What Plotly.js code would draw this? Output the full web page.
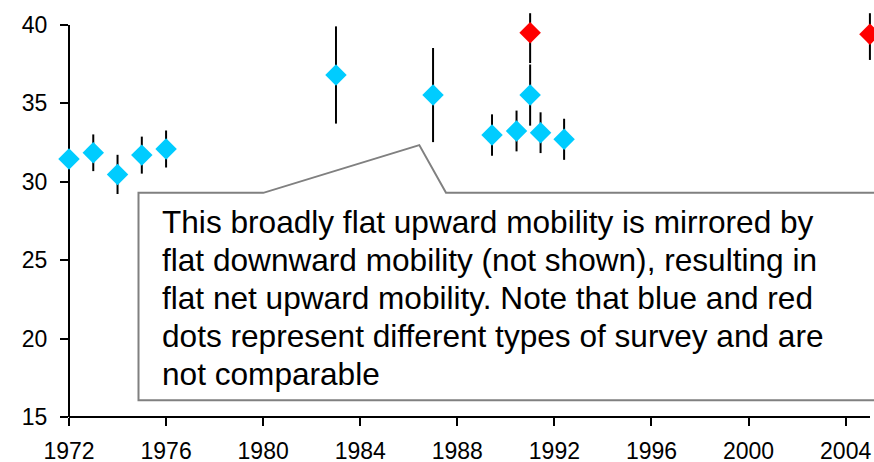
<!DOCTYPE html>
<html>
<head>
<meta charset="utf-8">
<script src="https://cdn.plot.ly/plotly-3.0.1.min.js"></script>
<style>html,body{margin:0;padding:0;background:#fff;}#chart{width:874px;height:462px;}</style>
</head>
<body>
<div id="chart"></div>
<script>
// Blue survey series
const blueYears = [1972, 1973, 1974, 1975, 1976, 1983, 1987, 1989.43, 1990.44, 1991, 1991.43, 1992.4];
const blueValues = [31.45, 31.85, 30.47, 31.7, 32.09, 36.81, 35.53, 32.98, 33.24, 35.53, 33.13, 32.71];
const blueError = [1.7, 1.17, 1.25, 1.18, 1.18, 3.1, 3.0, 1.32, 1.3, 1.95, 1.3, 1.31];
// Red survey series
const redYears = [1991, 2005];
const redValues = [39.51, 39.41];
const redErrorPlus = [1.24, 1.34];
const redErrorMinus = [1.94, 1.64];
// Axis ticks
const xTicks = [1972, 1976, 1980, 1984, 1988, 1992, 1996, 2000, 2004];
const yTicks = [15, 20, 25, 30, 35, 40];
// Callout text lines
const calloutLines = [
  "This broadly flat upward mobility is mirrored by",
  "flat downward mobility (not shown), resulting in",
  "flat net upward mobility. Note that blue and red",
  "dots represent different types of survey and are",
  "not comparable"
];

const FONT = '"Liberation Sans", Arial, sans-serif';

const traces = [
  {
    type: 'scatter', mode: 'markers', x: blueYears, y: blueValues,
    cliponaxis: false,
    marker: {symbol: 'diamond', size: 16.5, color: '#00CCFF', line: {width: 0}},
    error_y: {type: 'data', array: blueError, visible: true, color: '#000000', thickness: 2, width: 0},
    hoverinfo: 'skip', showlegend: false
  },
  {
    type: 'scatter', mode: 'markers', x: redYears, y: redValues,
    cliponaxis: false,
    marker: {symbol: 'diamond', size: 16.5, color: '#FF0000', line: {width: 0}},
    error_y: {type: 'data', symmetric: false, array: redErrorPlus, arrayminus: redErrorMinus, visible: true, color: '#000000', thickness: 2, width: 0},
    hoverinfo: 'skip', showlegend: false
  }
];

// plot area in pixels: x 69..874, y 0..416.7 ; data 40 sits at y=25, 2005 at x=870
const L = 69, R = 874, T = 0, B = 416.7;
const pxPerYear = 24.27, pxPerUnit = 15.67;
const xMax = 1972 + (R - L) / pxPerYear;
const yMax = 15 + (B - T) / pxPerUnit;
const px = X => (X - L) / (R - L);
const py = Y => (B - Y) / (B - T);

const boxPath = 'M ' + px(138.5) + ' ' + py(192.7) +
  ' L ' + px(263.3) + ' ' + py(192.7) +
  ' L ' + px(419.3) + ' ' + py(145) +
  ' L ' + px(446) + ' ' + py(192.7) +
  ' L ' + px(890) + ' ' + py(192.7) +
  ' L ' + px(890) + ' ' + py(400) +
  ' L ' + px(138.5) + ' ' + py(400) + ' Z';

const firstCenter = 221.4, lineStep = 38;
const annotations = calloutLines.map((t, i) => ({
  xref: 'paper', yref: 'paper', x: px(159.5), y: py(firstCenter + i * lineStep),
  xanchor: 'left', yanchor: 'middle', showarrow: false, align: 'left',
  text: t, font: {family: FONT, size: 31.6, color: '#000000'}
}));

const axisCommon = {
  showgrid: false, zeroline: false, showline: false,
  ticks: 'outside', ticklen: 8, tickwidth: 2, tickcolor: '#000000',
  tickfont: {family: FONT, size: 23, color: '#000000'}, fixedrange: true
};

const layout = {
  width: 874, height: 462,
  margin: {l: L, r: 874 - R, t: T, b: 462 - B, pad: 0},
  paper_bgcolor: '#ffffff', plot_bgcolor: '#ffffff',
  font: {family: FONT, color: '#000000'},
  xaxis: Object.assign({}, axisCommon, {
    range: [1972, xMax], tickvals: xTicks, ticktext: xTicks.map(String), ticklabelstandoff: 5
  }),
  yaxis: Object.assign({}, axisCommon, {
    range: [15, yMax], tickvals: yTicks, ticktext: yTicks.map(String), ticklabelstandoff: 8
  }),
  shapes: [
    {type: 'line', xref: 'paper', yref: 'paper', x0: 0, x1: 0, y0: 0, y1: py(25),
     line: {color: '#000000', width: 2}, layer: 'below'},
    {type: 'line', xref: 'paper', yref: 'paper', x0: 0, x1: px(870), y0: 0, y1: 0,
     line: {color: '#000000', width: 2}, layer: 'below'},
    {type: 'path', xref: 'paper', yref: 'paper', path: boxPath,
     fillcolor: '#ffffff', line: {color: '#808080', width: 2}, layer: 'above'}
  ],
  annotations: annotations,
  showlegend: false
};

Plotly.newPlot('chart', traces, layout, {displayModeBar: false, staticPlot: true});
</script>
</body>
</html>
